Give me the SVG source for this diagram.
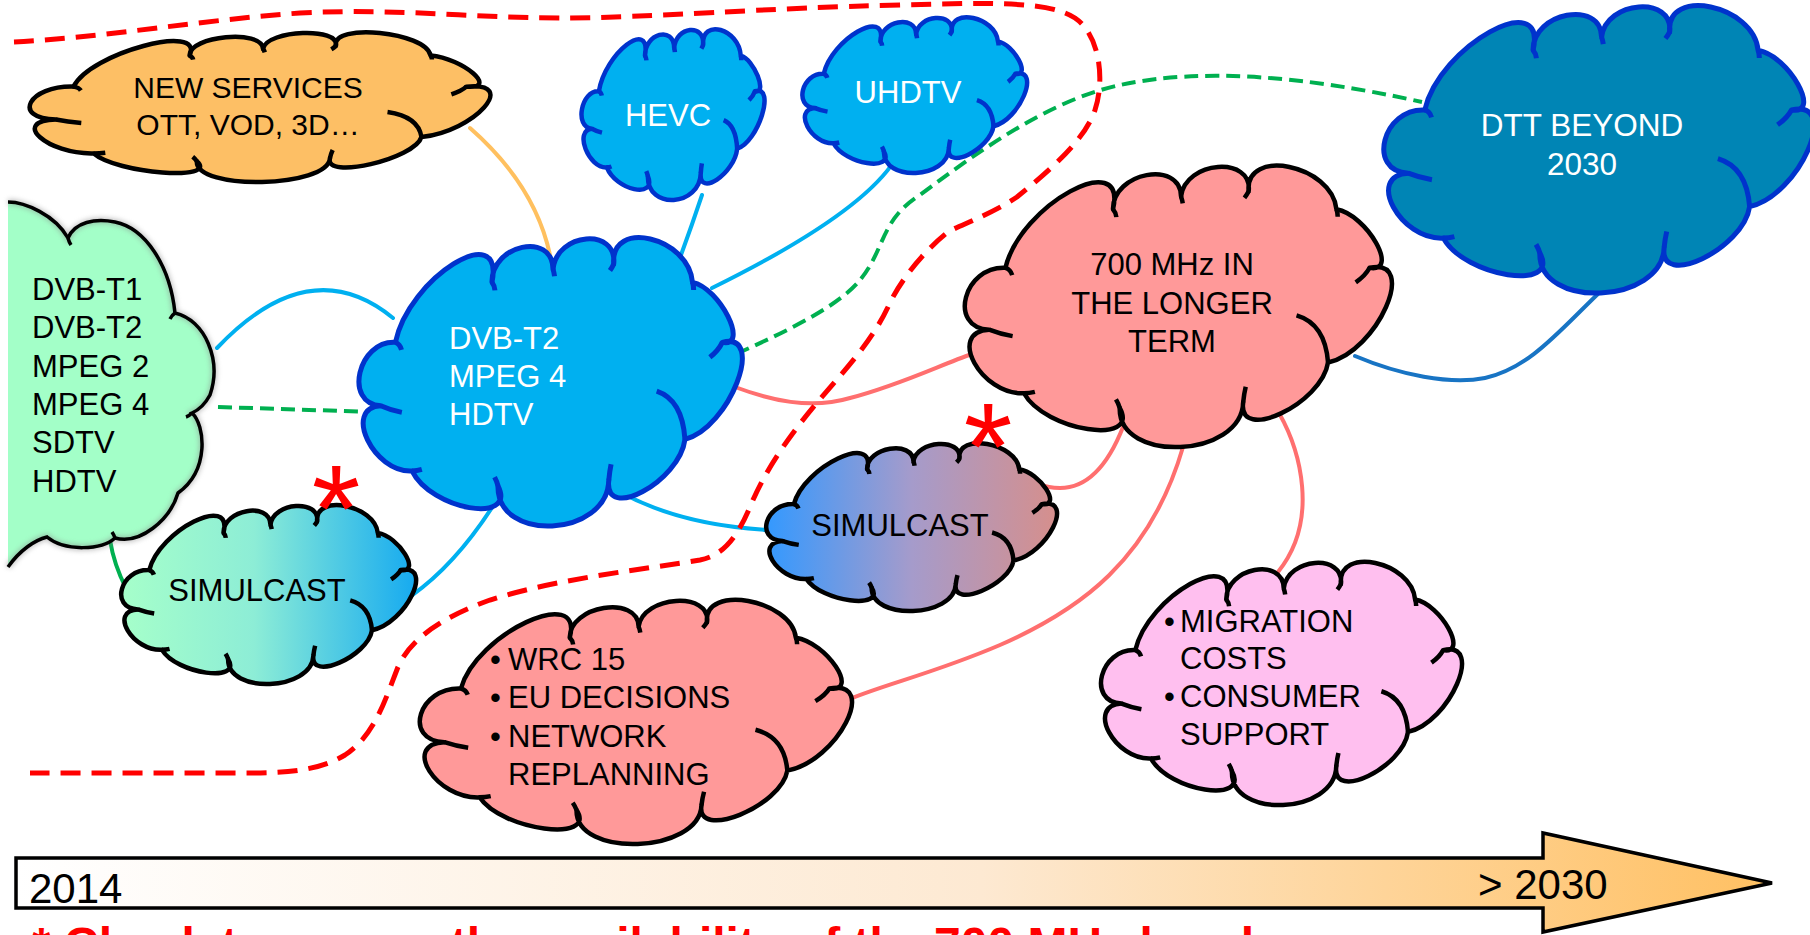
<svg xmlns="http://www.w3.org/2000/svg" xmlns:xlink="http://www.w3.org/1999/xlink" width="1810" height="935" viewBox="0 0 1810 935">
<style>
.co{vector-effect:non-scaling-stroke;stroke-linejoin:round}
.ci{fill:none;vector-effect:non-scaling-stroke;stroke-linecap:butt}
.t{font-family:"Liberation Sans",Arial,sans-serif;font-size:31px}
.w{fill:#ffffff}
.k{fill:#000000}
.m{text-anchor:middle}
.ln{fill:none;stroke-width:4;stroke-linecap:round}
.blue{stroke:#00B0F0}
.sal{stroke:#FF6F6F}
.gd{stroke:#00B050;stroke-dasharray:14 7;stroke-linecap:butt}
.ast{font-family:"Liberation Sans",Arial,sans-serif;font-size:125px;fill:#FF0000;text-anchor:middle}
</style>
<defs>
<g id="cloud">
<path class="co" d="M5.5,58.1 C-4.43,57.37 -0.53,35.27 9.4,36 C12.87,13.53 38.47,-7.37 35,15.1 C34.87,1.9 51.07,-2.7 51.2,10.5 C52.2,-2.3 68.3,-4.1 67.3,8.7 C66.3,-7.17 87.2,-0.77 88.2,15.1 C95.47,17.03 103.37,37.93 96.1,36 C107.9,32.13 98,65.93 86.2,69.8 C84.73,84.6 64.53,98.8 66,84 C65.6,104 36.2,106 36.6,86 C41.67,99.6 18.87,94.4 13.8,80.8 C3.6,81.53 -4.7,58.83 5.5,58.1 Z"/>
<path class="ci" d="M9.4,36 q1.2,0.6 1.6,2.6 M35,15.1 q0.7,1.2 0.8,2.8 M51.2,10.5 q0.3,1.3 0.4,2.5 M67.3,8.7 q-0.4,1.2 -1,2.3 M88.2,15.1 q0.3,1.3 0.3,2.7 M96.1,36 q-1,2.8 -3.3,5.2 M78.7,53 Q85.5,56 86.2,69.8 M66,84 q0.2,-3 0.6,-5.5 M36.6,86 q-0.3,-1.5 -0.9,-3 M13.8,80.8 q1.3,0 2.6,-0.5 M5.5,58.1 q2.5,1.5 5.6,2.3"/>
</g>
<linearGradient id="gSimL" x1="0" y1="0" x2="1" y2="0">
<stop offset="0" stop-color="#A6FFCA"/><stop offset="0.45" stop-color="#8DEDD6"/><stop offset="1" stop-color="#16AAF0"/>
</linearGradient>
<linearGradient id="gSimR" x1="0" y1="0" x2="1" y2="0">
<stop offset="0" stop-color="#3399FF"/><stop offset="0.5" stop-color="#A59BCB"/><stop offset="1" stop-color="#D68F8C"/>
</linearGradient>
<linearGradient id="gArrow" gradientUnits="userSpaceOnUse" x1="16" y1="0" x2="1772" y2="0">
<stop offset="0" stop-color="#FFFFFF"/><stop offset="0.55" stop-color="#FDE9D2"/><stop offset="1" stop-color="#FFC062"/>
</linearGradient>
<filter id="soft" x="-20%" y="-20%" width="140%" height="140%"><feGaussianBlur stdDeviation="2.5"/></filter>
</defs>
<rect width="1810" height="935" fill="#ffffff"/>

<g id="connectors">
<path class="ln" stroke="#FFC05F" d="M470,128 Q535,185 550,255"/>
<path class="ln blue" d="M702,195 Q692,225 681,255"/>
<path class="ln blue" d="M895,160 Q860,215 712,288"/>
<path class="ln blue" d="M217,348 Q310,250 393,318"/>
<path class="ln gd" d="M218,407 L374,412"/>
<path class="ln" stroke="#00B050" d="M110,540 Q114,565 126,588"/>
<path class="ln blue" d="M411,596 Q455,565 493,506"/>
<path class="ln blue" d="M620,492 Q680,525 768,530"/>
<path class="ln gd" d="M736,354 C790,330 840,305 860,280 C885,250 880,220 920,195 C980,150 1050,100 1120,85 C1200,68 1300,75 1422,102"/>
<path class="ln sal" d="M735,387 C770,400 810,410 850,398 C900,385 940,365 972,354"/>
<path class="ln" stroke="#1874C4" d="M1355,356 C1400,375 1450,385 1485,378 C1530,368 1560,330 1600,292"/>
<path class="ln sal" d="M1123,427 C1110,460 1090,488 1060,488 Q1048,488 1040,484"/>
<path class="ln sal" d="M1183,447 C1150,560 1080,610 1000,645 C930,675 880,685 840,703"/>
<path class="ln sal" d="M1279,413 C1300,450 1320,520 1278,572"/>
<path fill="none" stroke="#FF0000" stroke-width="5" stroke-dasharray="20 11" d="M14,42 C100,38 200,20 300,13 C400,8 470,18 560,18 C650,18 760,8 900,5 C1000,2 1050,2 1075,18 C1100,35 1105,80 1095,110 C1085,140 1050,170 1017,197 C990,215 960,225 948,232 C925,250 900,280 888,307 C870,345 840,375 815,405 C790,435 765,470 750,507 C738,535 725,555 700,560 C640,570 560,578 490,600 C440,618 410,640 398,667 C385,700 375,735 345,755 C320,770 290,773 250,773 L30,773"/>
</g>

<g id="legacy">
<path d="M8,202 C25,202 55,215 68,238 C75,222 95,218 115,222 C145,228 170,265 175,313 C205,320 222,360 210,395 Q203,408 192,413 C205,425 210,470 178,493 C170,520 140,545 115,538 C102,550 65,552 47,537 C35,540 20,550 8,567 Z" fill="#A3FFC8"/>
<path d="M8,202 C25,202 55,215 68,238 C75,222 95,218 115,222 C145,228 170,265 175,313 C205,320 222,360 210,395 Q203,408 192,413 C205,425 210,470 178,493 C170,520 140,545 115,538 C102,550 65,552 47,537 C35,540 20,550 8,567" fill="none" stroke="#8a8a8a" stroke-width="6" opacity="0.5" filter="url(#soft)"/>
<path d="M8,202 C25,202 55,215 68,238 C75,222 95,218 115,222 C145,228 170,265 175,313 C205,320 222,360 210,395 Q203,408 192,413 C205,425 210,470 178,493 C170,520 140,545 115,538 C102,550 65,552 47,537 C35,540 20,550 8,567" fill="none" stroke="#000" stroke-width="3.5"/>
<path d="M68,238 q1,4 3,7 M175,313 q-3,2 -5,6 M192,413 q-3,3 -6,4 M115,538 q-1,-3 -3,-6" fill="none" stroke="#000" stroke-width="3.5"/>
<text class="t k" x="32" y="300">DVB-T1</text>
<text class="t k" x="32" y="338">DVB-T2</text>
<text class="t k" x="32" y="377">MPEG 2</text>
<text class="t k" x="32" y="415">MPEG 4</text>
<text class="t k" x="32" y="453">SDTV</text>
<text class="t k" x="32" y="492">HDTV</text>
</g>

<g id="newservices">
<use href="#cloud" transform="translate(31,33) scale(4.53,1.49)" fill="#FDBF65" stroke="#000" stroke-width="4.5"/>
<text class="t k m" x="248" y="98" style="font-size:30px">NEW SERVICES</text>
<text class="t k m" x="248" y="135" style="font-size:30px">OTT, VOD, 3D…</text>
</g>

<g id="hevc">
<use href="#cloud" transform="translate(582,30) scale(1.8,1.7)" fill="#00B0F0" stroke="#0033CC" stroke-width="4.5"/>
<text class="t w m" x="668" y="126">HEVC</text>
</g>

<g id="uhdtv">
<use href="#cloud" transform="translate(803,18) scale(2.21,1.55)" fill="#00B0F0" stroke="#0033CC" stroke-width="4.5"/>
<text class="t w m" x="908" y="103">UHDTV</text>
</g>

<g id="dvbt2">
<use href="#cloud" transform="translate(360,239) scale(3.77,2.87)" fill="#00B0F0" stroke="#0033CC" stroke-width="5"/>
<text class="t w" x="449" y="349">DVB-T2</text>
<text class="t w" x="449" y="387">MPEG 4</text>
<text class="t w" x="449" y="425">HDTV</text>
</g>

<g id="dtt">
<use href="#cloud" transform="translate(1385,7) scale(4.23,2.86)" fill="#0085B5" stroke="#0033CC" stroke-width="5"/>
<text class="t w m" x="1582" y="136" style="font-size:31.5px">DTT BEYOND</text>
<text class="t w m" x="1582" y="175" style="font-size:31.5px">2030</text>
</g>

<g id="mhz700">
<use href="#cloud" transform="translate(966,167) scale(4.2,2.8)" fill="#FF9999" stroke="#000" stroke-width="4.5"/>
<text class="t k m" x="1172" y="275">700 MHz IN</text>
<text class="t k m" x="1172" y="314">THE LONGER</text>
<text class="t k m" x="1172" y="352">TERM</text>
</g>

<g id="simulcast-right">
<use href="#cloud" transform="translate(767,444) scale(2.86,1.67)" fill="url(#gSimR)" stroke="#000" stroke-width="4.5"/>
<text class="t k m" x="900" y="536">SIMULCAST</text>
<text class="ast" x="988" y="490">*</text>
</g>

<g id="simulcast-left">
<use href="#cloud" transform="translate(122,506) scale(2.9,1.78)" fill="url(#gSimL)" stroke="#000" stroke-width="4.5"/>
<text class="t k m" x="257" y="601">SIMULCAST</text>
<text class="ast" x="336" y="552">*</text>
</g>

<g id="wrc">
<use href="#cloud" transform="translate(421,601) scale(4.25,2.43)" fill="#FF9999" stroke="#000" stroke-width="4.5"/>
<text class="t k" x="490" y="670">•</text><text class="t k" x="508" y="670">WRC 15</text>
<text class="t k" x="490" y="708">•</text><text class="t k" x="508" y="708">EU DECISIONS</text>
<text class="t k" x="490" y="747">•</text><text class="t k" x="508" y="747">NETWORK</text>
<text class="t k" x="508" y="785">REPLANNING</text>
</g>

<g id="migration">
<use href="#cloud" transform="translate(1102,563) scale(3.55,2.42)" fill="#FFBFEF" stroke="#000" stroke-width="4.5"/>
<text class="t k" x="1164" y="632">•</text><text class="t k" x="1180" y="632">MIGRATION</text>
<text class="t k" x="1180" y="669">COSTS</text>
<text class="t k" x="1164" y="707">•</text><text class="t k" x="1180" y="707">CONSUMER</text>
<text class="t k" x="1180" y="745">SUPPORT</text>
</g>

<g id="timeline">
<path d="M16,858 L1543,858 L1543,833 L1772,883 L1543,932 L1543,908 L16,908 Z" fill="url(#gArrow)" stroke="#000" stroke-width="3.5" stroke-linejoin="miter"/>
<text class="t k" x="29" y="903" style="font-size:42px">2014</text>
<text class="t k" x="1478" y="899" style="font-size:42px">&gt; 2030</text>
</g>

<g id="footnote">
<text x="32" y="961" style="font-family:'Liberation Sans',Arial,sans-serif;font-size:48px;font-weight:bold;fill:#FF0000">* Check to ensure the availability of the <tspan x="934">700 MHz band</tspan></text>
</g>
</svg>
